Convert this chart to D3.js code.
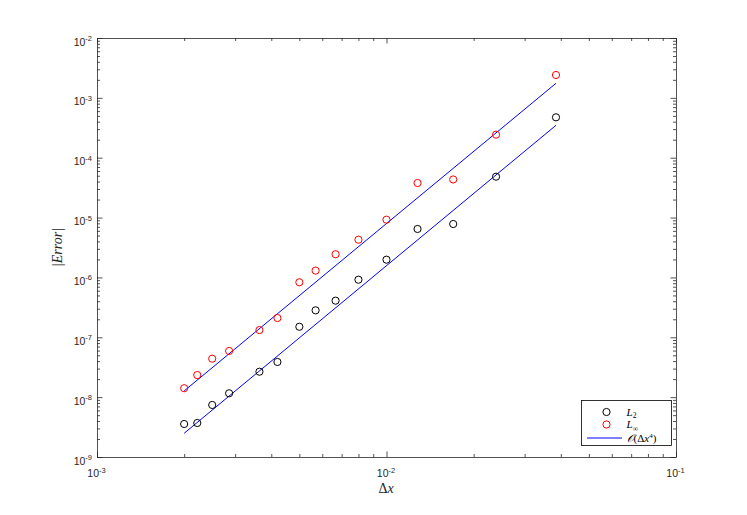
<!DOCTYPE html>
<html>
<head>
<meta charset="utf-8">
<script src="https://cdn.jsdelivr.net/npm/d3@7"></script>
<style>
  html, body { margin: 0; padding: 0; background: #fff; }
  svg { display: block; }
</style>
</head>
<body>
<script>
// ---- data ----
const dx = [0.002, 0.00222, 0.0025, 0.00286, 0.00364, 0.0042, 0.005, 0.00569, 0.00667, 0.008, 0.01, 0.0128, 0.017, 0.0239, 0.0385];
const errL2 = [3.56e-9, 3.70e-9, 7.4e-9, 1.16e-8, 2.66e-8, 3.87e-8, 1.5e-7, 2.82e-7, 4.09e-7, 9.17e-7, 1.98e-6, 6.45e-6, 7.81e-6, 4.82e-5, 4.73e-4];
const errLinf = [1.41e-8, 2.34e-8, 4.39e-8, 5.91e-8, 1.32e-7, 2.10e-7, 8.3e-7, 1.3e-6, 2.44e-6, 4.27e-6, 9.22e-6, 3.78e-5, 4.33e-5, 2.43e-4, 2.41e-3];
const fitX = [0.002, 0.0385];
const fitUpper = [1.27e-8, 1.75e-3];
const fitLower = [2.49e-9, 3.48e-4];
const xTickExps = [-3, -2, -1];
const yTickExps = [-9, -8, -7, -6, -5, -4, -3, -2];
const xDomain = [1e-3, 1e-1];
const yDomain = [1e-9, 1e-2];

(function () {
const W = 747, H = 515;
const pL = 97, pR = 676, pT = 38, pB = 457;
const axisColor = "#262626";

const svg = d3.select("body").append("svg").attr("width", W).attr("height", H);

const x = d3.scaleLog().domain(xDomain).range([pL, pR]);
const y = d3.scaleLog().domain(yDomain).range([pB, pT]);

const xt = x.ticks();
const yt = y.ticks();
const isMajor = v => Math.abs(Math.log10(v) - Math.round(Math.log10(v))) < 1e-9;
const MAJ = 5.5, MIN = 3;

function styleAxis(g, dir) {
  g.select(".domain").attr("stroke", axisColor).attr("stroke-width", 0.8);
  g.selectAll(".tick line").attr("stroke", axisColor).attr("stroke-width", 0.8)
    .each(function(d) {
      const len = isMajor(d) ? MAJ : MIN;
      const sel = d3.select(this);
      if (dir === "bottom") sel.attr("y2", -len);
      if (dir === "top") sel.attr("y2", len);
      if (dir === "left") sel.attr("x2", len);
      if (dir === "right") sel.attr("x2", -len);
    });
  g.selectAll(".tick text").remove();
}

const gB = svg.append("g").attr("transform", `translate(0,${pB})`)
  .call(d3.axisBottom(x).tickValues(xt).tickSizeOuter(0).tickFormat(""));
styleAxis(gB, "bottom");
const gT = svg.append("g").attr("transform", `translate(0,${pT})`)
  .call(d3.axisTop(x).tickValues(xt).tickSizeOuter(0).tickFormat(""));
styleAxis(gT, "top");
const gL = svg.append("g").attr("transform", `translate(${pL},0)`)
  .call(d3.axisLeft(y).tickValues(yt).tickSizeOuter(0).tickFormat(""));
styleAxis(gL, "left");
const gR = svg.append("g").attr("transform", `translate(${pR},0)`)
  .call(d3.axisRight(y).tickValues(yt).tickSizeOuter(0).tickFormat(""));
styleAxis(gR, "right");

// tick labels
const tickFont = "'Liberation Sans', Arial, Helvetica, sans-serif";
xTickExps.forEach(e => {
  const t = svg.append("text")
    .attr("x", x(Math.pow(10, e)) - 0.5).attr("y", pB + 20)
    .attr("text-anchor", "middle")
    .attr("font-family", tickFont).attr("font-size", 10.5).attr("fill", axisColor);
  t.append("tspan").text("10");
  t.append("tspan").attr("dy", -4.5).attr("font-size", 7.5).text(String(e));
});
yTickExps.forEach(e => {
  const t = svg.append("text")
    .attr("x", pL - 5).attr("y", y(Math.pow(10, e)) + 7.5)
    .attr("text-anchor", "end")
    .attr("font-family", tickFont).attr("font-size", 10.5).attr("fill", axisColor);
  t.append("tspan").text("10");
  t.append("tspan").attr("dy", -4.5).attr("font-size", 7.5).text(String(e));
});

// axis labels
const serif = "'Liberation Serif', 'DejaVu Serif', 'Times New Roman', serif";
const xl = svg.append("text")
  .attr("x", (pL + pR) / 2 - 0.5).attr("y", pB + 36)
  .attr("text-anchor", "middle")
  .attr("font-family", serif).attr("font-size", 14).attr("fill", axisColor);
xl.append("tspan").text("Δ");
xl.append("tspan").attr("font-style", "italic").text("x");

svg.append("text")
  .attr("transform", `translate(62,${(pT + pB) / 2}) rotate(-90)`)
  .attr("text-anchor", "middle")
  .attr("font-family", serif).attr("font-size", 14).attr("font-style", "italic")
  .attr("fill", axisColor)
  .text("|Error|");

// fit lines
const line = d3.line().x(d => x(d[0])).y(d => y(d[1]));
[fitUpper, fitLower].forEach(fy => {
  svg.append("path")
    .datum(fitX.map((v, i) => [v, fy[i]]))
    .attr("d", line)
    .attr("fill", "none").attr("stroke", "#0000ff").attr("stroke-width", 1);
});

// markers
function markers(vals, color) {
  svg.append("g").selectAll("circle")
    .data(dx.map((v, i) => [v, vals[i]]))
    .join("circle")
    .attr("cx", d => x(d[0])).attr("cy", d => y(d[1]))
    .attr("r", 3.6)
    .attr("fill", "none").attr("stroke", color).attr("stroke-width", 1);
}
markers(errL2, "#000000");
markers(errLinf, "#ff0000");

// legend
const lg = svg.append("g");
lg.append("rect").attr("x", 581.5).attr("y", 400.5).attr("width", 90).attr("height", 45)
  .attr("fill", "#fff").attr("stroke", "#000").attr("stroke-width", 0.8);
lg.append("circle").attr("cx", 606.5).attr("cy", 412).attr("r", 3.6)
  .attr("fill", "none").attr("stroke", "#000").attr("stroke-width", 1);
lg.append("circle").attr("cx", 606.5).attr("cy", 424.5).attr("r", 3.6)
  .attr("fill", "none").attr("stroke", "#ff0000").attr("stroke-width", 1);
lg.append("line").attr("x1", 587).attr("x2", 622).attr("y1", 438).attr("y2", 438)
  .attr("stroke", "#0000ff").attr("stroke-width", 1);

const t1 = lg.append("text").attr("x", 626.5).attr("y", 415.5)
  .attr("font-family", serif).attr("font-size", 11).attr("fill", "#000");
t1.append("tspan").attr("font-style", "italic").text("L");
t1.append("tspan").attr("dy", 2.5).attr("font-size", 7.5).text("2");

const t2 = lg.append("text").attr("x", 626.5).attr("y", 428)
  .attr("font-family", serif).attr("font-size", 11).attr("fill", "#000");
t2.append("tspan").attr("font-style", "italic").text("L");
t2.append("tspan").attr("dy", 2.5).attr("font-size", 7.5).text("∞");

const t3 = lg.append("text").attr("x", 626.5).attr("y", 441.5)
  .attr("font-family", serif).attr("font-size", 11).attr("fill", "#000");
t3.append("tspan").attr("font-style", "italic").text("𝒪");
t3.append("tspan").text("(Δ");
t3.append("tspan").attr("font-style", "italic").text("x");
t3.append("tspan").attr("dy", -4).attr("font-size", 7).text("4");
t3.append("tspan").attr("dy", 4).text(")");
})();
</script>
</body>
</html>
